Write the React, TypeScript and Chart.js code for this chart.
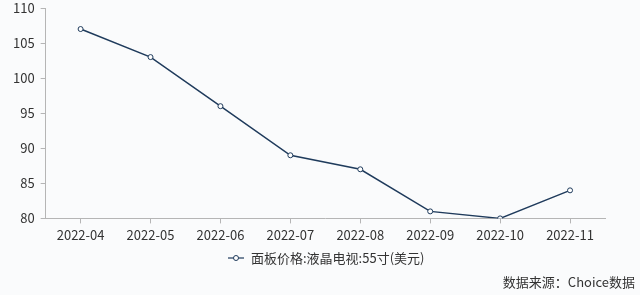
import React, { useEffect, useRef } from "react";
import { Chart, registerables } from "chart.js";

Chart.register(...registerables);

const categories = ["2022-04", "2022-05", "2022-06", "2022-07", "2022-08", "2022-09", "2022-10", "2022-11"];
const prices = [107, 103, 96, 89, 87, 81, 80, 84];
const seriesName = "面板价格:液晶电视:55寸(美元)";
const sourceText = "数据来源：Choice数据";
const FONT = "'Noto Sans CJK SC', 'Noto Sans', sans-serif";
const LINE = "#1f3b5c";

export default function App() {
  const ref = useRef<HTMLCanvasElement>(null);
  useEffect(() => {
    document.body.style.margin = "0";
    const bgPlugin = {
      id: "bg",
      beforeDraw(chart: any) {
        const { ctx, width, height } = chart;
        ctx.save();
        ctx.fillStyle = "#fafbfc";
        ctx.fillRect(0, 0, width, height);
        ctx.restore();
      },
      afterDraw(chart: any) {
        const { ctx, width, height } = chart;
        ctx.save();
        // legend
        const ly = 258;
        ctx.strokeStyle = LINE;
        ctx.lineWidth = 1.2;
        ctx.beginPath();
        ctx.moveTo(228, ly);
        ctx.lineTo(244, ly);
        ctx.stroke();
        ctx.fillStyle = "#fff";
        ctx.lineWidth = 1;
        ctx.beginPath();
        ctx.arc(236, ly, 2.5, 0, Math.PI * 2);
        ctx.fill();
        ctx.stroke();
        ctx.font = `13px ${FONT}`;
        ctx.fillStyle = "#333";
        ctx.textAlign = "left";
        ctx.textBaseline = "middle";
        ctx.fillText(seriesName, 251, ly);
        // source
        ctx.textAlign = "right";
        ctx.fillText(sourceText, width - 5, height - 13);
        ctx.restore();
      },
    };
    const chart = new Chart(ref.current!, {
      type: "line",
      data: {
        labels: categories,
        datasets: [
          {
            label: seriesName,
            data: prices,
            borderColor: LINE,
            borderWidth: 1.5,
            pointRadius: 2.5,
            pointBackgroundColor: "#fff",
            pointBorderColor: LINE,
            pointBorderWidth: 1,
            tension: 0,
          },
        ],
      },
      options: {
        animation: false,
        responsive: false,
        layout: { padding: { left: 7, right: 35, top: 8, bottom: 48 } },
        plugins: {
          tooltip: { enabled: false },
          legend: { display: false },
        },
        scales: {
          x: {
            offset: true,
            grid: { display: true, drawOnChartArea: false, drawTicks: true, tickLength: 5, color: "#b5b5b5", offset: false },
            border: { display: true, color: "#b5b5b5" },
            ticks: { font: { family: FONT, size: 13 }, color: "#333", padding: 4, maxRotation: 0 },
          },
          y: {
            min: 80,
            max: 110,
            afterFit: (scale: any) => {
              scale.paddingTop = 0;
            },
            grid: { display: true, drawOnChartArea: false, drawTicks: true, tickLength: 5, color: "#b5b5b5" },
            border: { display: true, color: "#b5b5b5" },
            ticks: { stepSize: 5, font: { family: FONT, size: 13 }, color: "#333", padding: 6 },
          },
        },
      },
      plugins: [bgPlugin],
    });
    return () => chart.destroy();
  }, []);
  return <canvas ref={ref} width={640} height={295} style={{ display: "block" }} />;
}
